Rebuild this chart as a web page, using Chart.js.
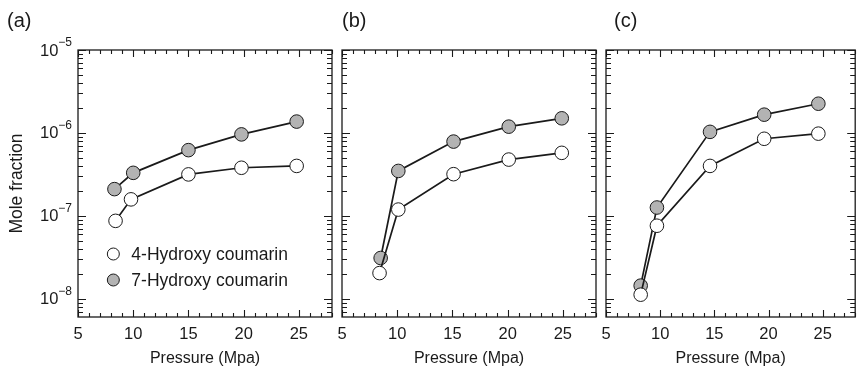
<!DOCTYPE html>
<html>
<head>
<meta charset="utf-8">
<script src="https://cdn.jsdelivr.net/npm/chart.js@4/dist/chart.umd.min.js"></script>
<style>
  html, body { margin: 0; padding: 0; background: #fff; }
  #wrap { position: relative; width: 863px; height: 377px; }
  canvas { position: absolute; left: 0; top: 0; }
</style>
</head>
<body>
<div id="wrap">
  <canvas id="ca" width="863" height="377"></canvas>
  <canvas id="cb" width="863" height="377"></canvas>
  <canvas id="cc" width="863" height="377"></canvas>
</div>
<script>
// ---- data ----
const panelLabels = ['(a)', '(b)', '(c)'];
const seriesNames = ['4-Hydroxy coumarin', '7-Hydroxy coumarin'];
const xTickValues = [5, 10, 15, 20, 25];
const yDecades = [1e-8, 1e-7, 1e-6, 1e-5];

const aPressure4 = [8.4, 9.8, 15.0, 19.8, 24.8];
const aFraction4 = [8.7e-8, 1.58e-7, 3.16e-7, 3.8e-7, 4.0e-7];
const aPressure7 = [8.3, 10.0, 15.0, 19.8, 24.8];
const aFraction7 = [2.1e-7, 3.3e-7, 6.2e-7, 9.6e-7, 1.37e-6];

const bPressure4 = [8.4, 10.1, 15.1, 20.1, 24.9];
const bFraction4 = [2.04e-8, 1.19e-7, 3.18e-7, 4.77e-7, 5.75e-7];
const bPressure7 = [8.5, 10.1, 15.1, 20.1, 24.9];
const bFraction7 = [3.1e-8, 3.48e-7, 7.86e-7, 1.19e-6, 1.5e-6];

const cPressure4 = [8.2, 9.7, 14.6, 19.6, 24.6];
const cFraction4 = [1.12e-8, 7.6e-8, 4.0e-7, 8.5e-7, 9.8e-7];
const cPressure7 = [8.2, 9.7, 14.6, 19.6, 24.6];
const cFraction7 = [1.44e-8, 1.26e-7, 1.03e-6, 1.66e-6, 2.25e-6];

// ---- styling ----
const FONT = '"Liberation Sans", Arial, Helvetica, sans-serif';
const INK = '#1a1a1a';
const GREY = '#b3b3b3';
const X_MIN = 5, X_MAX = 28;
const Y_MIN = Math.pow(10, -8.22), Y_MAX = 1e-5;

function pts(xs, ys) { return xs.map((x, i) => ({ x: x, y: ys[i] })); }

const framePlugin = {
  id: 'frame',
  afterDraw(chart, args, opts) {
    const ctx = chart.ctx;
    const ca = chart.chartArea;
    const xs = chart.scales.x, ys = chart.scales.y;
    ctx.save();
    ctx.strokeStyle = INK;
    ctx.lineWidth = 1.3;
    ctx.strokeRect(ca.left, ca.top, ca.right - ca.left, ca.bottom - ca.top);
    ctx.lineWidth = 1.1;
    ctx.beginPath();
    for (let v = X_MIN; v <= X_MAX + 1e-9; v += 1) {
      const px = Math.round(xs.getPixelForValue(v)) + 0.5;
      const len = (v % 5 === 0) ? 7 : 4;
      ctx.moveTo(px, ca.bottom); ctx.lineTo(px, ca.bottom - len);
      ctx.moveTo(px, ca.top); ctx.lineTo(px, ca.top + len);
    }
    for (let e = -9; e <= -5; e++) {
      for (let m = 1; m <= 9; m++) {
        const v = m * Math.pow(10, e);
        if (v < Y_MIN * 0.999 || v > Y_MAX * 1.001) continue;
        const py = Math.round(ys.getPixelForValue(v)) + 0.5;
        const len = (m === 1) ? 8 : 5;
        ctx.moveTo(ca.left, py); ctx.lineTo(ca.left + len, py);
        ctx.moveTo(ca.right, py); ctx.lineTo(ca.right - len, py);
      }
    }
    ctx.stroke();

    ctx.fillStyle = INK;
    ctx.font = '20px ' + FONT;
    ctx.textAlign = 'left';
    ctx.textBaseline = 'middle';
    ctx.fillText(opts.label, opts.labelX, 21);

    if (opts.yLabels) {
      const rightX = ca.left - 6;
      yDecades.forEach(v => {
        const py = ys.getPixelForValue(v);
        const exp = '\u2212' + Math.round(-Math.log10(v));
        ctx.font = '12px ' + FONT;
        const w = ctx.measureText(exp).width;
        ctx.textAlign = 'left';
        ctx.fillText(exp, rightX - w, py - 7);
        ctx.font = '16.5px ' + FONT;
        ctx.textAlign = 'right';
        ctx.fillText('10', rightX - w, py + 1);
      });
    }

    if (opts.legend) {
      const ds = chart.data.datasets;
      const lx = chart.scales.x.getPixelForValue(8.2);
      const rows = [254, 280];
      ds.forEach((d, i) => {
        ctx.beginPath();
        ctx.arc(lx, rows[i], 6, 0, Math.PI * 2);
        ctx.fillStyle = d.pointBackgroundColor;
        ctx.fill();
        ctx.lineWidth = 1;
        ctx.strokeStyle = INK;
        ctx.stroke();
        ctx.fillStyle = INK;
        ctx.font = '17.5px ' + FONT;
        ctx.textAlign = 'left';
        ctx.textBaseline = 'middle';
        ctx.fillText(d.label, lx + 18, rows[i] + 1);
      });
    }
    ctx.restore();
  }
};

function makeDataset(name, data, fill) {
  return {
    label: name,
    data: data,
    borderColor: INK,
    borderWidth: 1.7,
    pointRadius: 6.8,
    pointHoverRadius: 6.8,
    pointBorderWidth: 1,
    pointBorderColor: INK,
    pointBackgroundColor: fill,
    showLine: true,
    tension: 0,
    fill: false
  };
}

function makeChart(id, d4, d7, padL, padR, label, labelX, withY) {
  return new Chart(document.getElementById(id), {
    type: 'scatter',
    data: {
      datasets: [
        makeDataset(seriesNames[0], d4, '#ffffff'),
        makeDataset(seriesNames[1], d7, GREY)
      ]
    },
    plugins: [framePlugin],
    options: {
      responsive: false,
      animation: false,
      events: [],
      layout: { padding: { left: padL, right: padR, top: 50, bottom: 0 } },
      plugins: {
        legend: { display: false },
        tooltip: { enabled: false },
        frame: { label: label, labelX: labelX, yLabels: withY, legend: withY }
      },
      scales: {
        x: {
          type: 'linear',
          min: X_MIN, max: X_MAX,
          afterBuildTicks: s => { s.ticks = xTickValues.map(v => ({ value: v })); },
          afterFit: s => { s.height = 60; },
          grid: { display: false, drawTicks: false },
          border: { display: false },
          ticks: {
            color: INK, padding: 8, maxRotation: 0,
            font: { family: FONT, size: 16.5 },
            callback: v => String(v)
          },
          title: {
            display: true, text: 'Pressure (Mpa)', color: INK,
            font: { family: FONT, size: 16 },
            padding: { top: 4, bottom: 9 }
          }
        },
        y: {
          type: 'logarithmic',
          display: withY,
          min: Y_MIN, max: Y_MAX,
          afterBuildTicks: s => { s.ticks = yDecades.map(v => ({ value: v })); },
          afterFit: s => { s.width = withY ? 78 : 0; },
          grid: { display: false, drawTicks: false },
          border: { display: false },
          ticks: { display: false },
          title: {
            display: withY, text: 'Mole fraction', color: INK,
            font: { family: FONT, size: 17.5 },
            padding: { top: 7, bottom: 0 }
          }
        }
      }
    }
  });
}

makeChart('ca', pts(aPressure4, aFraction4), pts(aPressure7, aFraction7), 0, 531, panelLabels[0], 7, true);
makeChart('cb', pts(bPressure4, bFraction4), pts(bPressure7, bFraction7), 342, 267, panelLabels[1], 342, false);
makeChart('cc', pts(cPressure4, cFraction4), pts(cPressure7, cFraction7), 606, 4, panelLabels[2], 614, false);
</script>
</body>
</html>
